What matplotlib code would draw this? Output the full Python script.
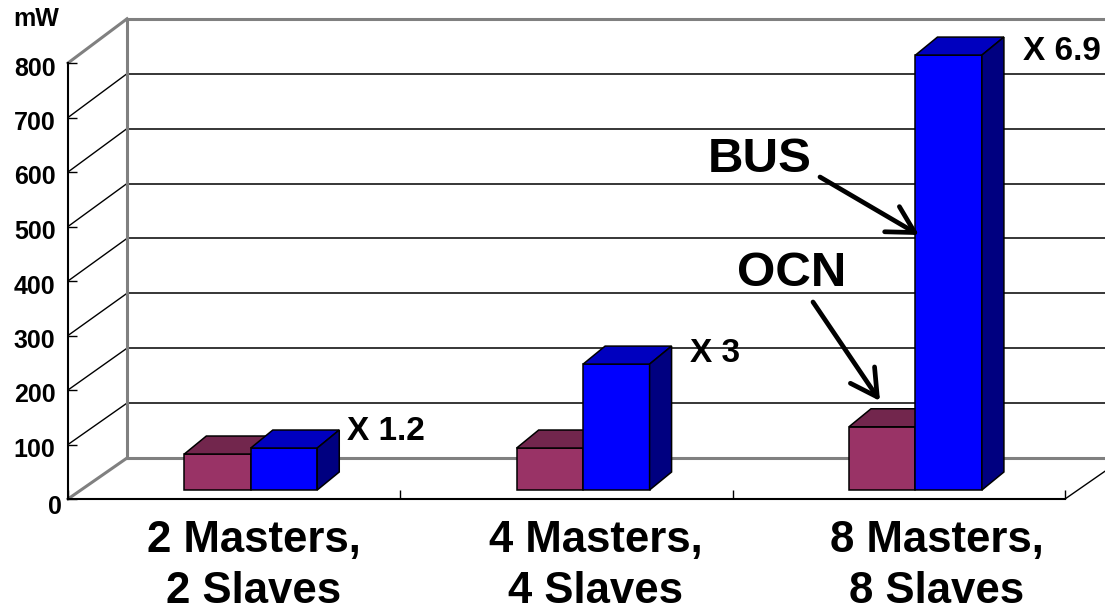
import numpy as np
import matplotlib
matplotlib.use("Agg")
import matplotlib.pyplot as plt
from matplotlib.transforms import Affine2D

plt.rcParams['font.family'] = ['Liberation Sans', 'DejaVu Sans']
plt.rcParams['font.weight'] = 'bold'

categories = ["2 Masters,\n2 Slaves", "4 Masters,\n4 Slaves", "8 Masters,\n8 Slaves"]
ocn_power = [66, 77, 116]
bus_power = [77, 231, 798]
ratio_labels = ["X 1.2", "X 3", "X 6.9"]
y_ticks = [0, 100, 200, 300, 400, 500, 600, 700, 800]

W, H = 1105, 604

# size of one data unit in pixels, the 3d look is done by shifting in data units
PX_X = 997 / 3
PX_Y = 436 / 800
WALL_DX = 59 / PX_X
WALL_DY = 41 / PX_Y
WALL_SCALE = 54.9 / 54.5
BAR_DX = 22 / PX_X
BAR_DY = 18 / PX_Y
BAR_BASE = 9 / PX_Y
BAR_W = 0.2

MAROON = ("#993366", "#72264d")
BLUE = ("#0000ff", "#0000bf", "#000080")


def wall_y(v):
    return WALL_DY + v * WALL_SCALE


def box_faces(ax, left, value, colors):
    right = left + BAR_W
    top = BAR_BASE + value
    ax.bar(left, value, BAR_W, bottom=BAR_BASE, align='edge', color=colors[0],
           edgecolor='black', linewidth=1.1, zorder=3, clip_on=False)
    ax.fill([left, right, right + BAR_DX, left + BAR_DX],
            [top, top, top + BAR_DY, top + BAR_DY],
            facecolor=colors[1], edgecolor='black', linewidth=1.1, zorder=3, clip_on=False)
    if len(colors) > 2:
        ax.fill([right, right + BAR_DX, right + BAR_DX, right],
                [BAR_BASE, BAR_BASE + BAR_DY, top + BAR_DY, top],
                facecolor=colors[2], edgecolor='black', linewidth=1.1, zorder=3, clip_on=False)


def label(x, y, s, size, **kw):
    fig.text(x / W, 1 - y / H, s, fontsize=size, fontweight='bold', color='black',
             ha='center', va='center', zorder=10, **kw)


def arrow(x0, y0, x1, y1):
    ax.annotate('', xy=(x1, H - y1), xytext=(x0, H - y0),
                xycoords='figure pixels', textcoords='figure pixels', zorder=9,
                arrowprops=dict(arrowstyle='->,head_length=1.9,head_width=1.05', color='black',
                                lw=3.4, shrinkA=0, shrinkB=0, mutation_scale=10))


fig = plt.figure(figsize=(W / 100, H / 100), dpi=100)
ax = fig.add_axes([68 / W, (H - 499) / H, 997 / W, 436 / H])
ax.set(xlim=(0, 3), ylim=(0, 800))
ax.patch.set_visible(False)

# back wall and floor
for v in y_ticks[1:-1]:
    ax.plot([WALL_DX, 3 + WALL_DX], [wall_y(v)] * 2, color='black', lw=1.1, zorder=1, clip_on=False)
    ax.plot([0, WALL_DX], [v, wall_y(v)], color='black', lw=1, zorder=1, clip_on=False)
ax.plot([WALL_DX, 3 + WALL_DX], [wall_y(0)] * 2, color='#808080', lw=2.2, zorder=1.5, clip_on=False)
ax.plot([WALL_DX, 3 + WALL_DX], [wall_y(800)] * 2, color='#808080', lw=2.2, zorder=1.5, clip_on=False)
ax.plot([WALL_DX, WALL_DX], [wall_y(0), wall_y(800)], color='#808080', lw=2.2, zorder=1.5, clip_on=False)
ax.plot([0, WALL_DX], [0, wall_y(0)], color='#808080', lw=2.2, zorder=1.5, clip_on=False)
ax.plot([0, WALL_DX], [800, wall_y(800)], color='#808080', lw=2.2, zorder=1.5, clip_on=False)
ax.plot([3, 3 + WALL_DX], [0, wall_y(0)], color='black', lw=1, zorder=1, clip_on=False)

for i in range(len(categories)):
    box_faces(ax, i + 0.35, ocn_power[i], MAROON)
    box_faces(ax, i + 0.55, bus_power[i], BLUE)

for side in ['top', 'right']:
    ax.spines[side].set_visible(False)
ax.spines['left'].set_linewidth(1.5)
ax.spines['bottom'].set_linewidth(1.5)

ax.set_yticks(y_ticks)
ax.set_xticks(np.arange(4))
ax.set_xticklabels([])
ax.tick_params(axis='both', direction='in', length=6.5, width=1)
ax.tick_params(axis='y', labelsize=18, pad=9)

# nudge the value labels down a little, the 0 sits closer to the axis
for t, v in zip(ax.get_yticklabels(), y_ticks):
    shift = (6, -5) if v == 0 else (0, -3)
    t.set_transform(t.get_transform() + Affine2D().translate(*shift))

label(36, 19, "mW", 18)

for s, x in zip(categories, [254, 596, 937]):
    label(x, 566, s, 31.5, linespacing=1.3)

for s, x, y in zip(ratio_labels, [386, 715, 1062], [431, 353, 51]):
    label(x, y, s, 24)

label(760, 159, "BUS", 35.5)
label(792, 274, "OCN", 35.5)
arrow(820, 177, 919, 235)
arrow(813, 302, 880, 401)

fig.savefig("out.png", dpi=100)
